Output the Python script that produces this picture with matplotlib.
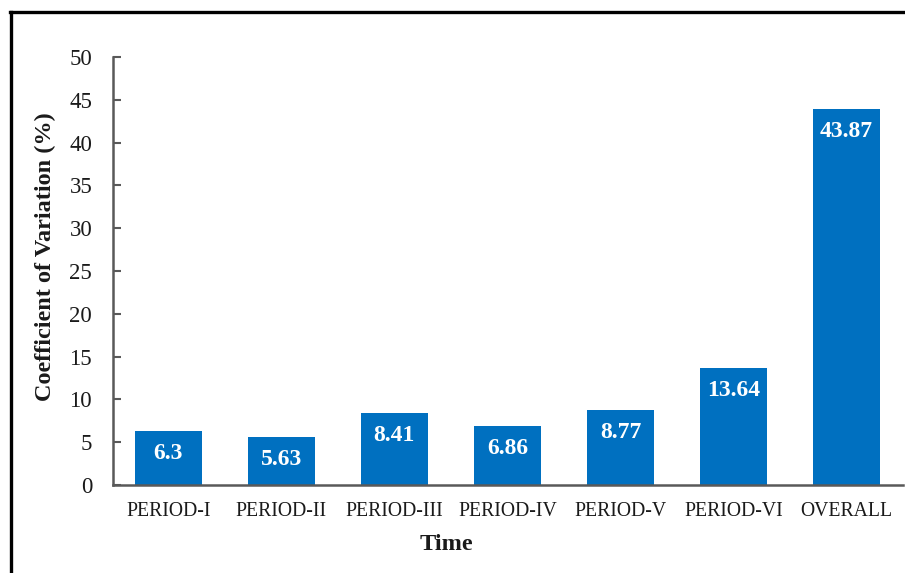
import matplotlib
matplotlib.use("Agg")
import matplotlib.pyplot as plt
from matplotlib.lines import Line2D

categories = ["PERIOD-I", "PERIOD-II", "PERIOD-III", "PERIOD-IV", "PERIOD-V", "PERIOD-VI", "OVERALL"]
values = [6.3, 5.63, 8.41, 6.86, 8.77, 13.64, 43.87]
labels = ["6.3", "5.63", "8.41", "6.86", "8.77", "13.64", "43.87"]
yticks = [0, 5, 10, 15, 20, 25, 30, 35, 40, 45, 50]

plt.rcParams['font.family'] = ['Liberation Serif', 'DejaVu Serif']

W, H = 905, 573
fig = plt.figure(figsize=(W/100, H/100), dpi=100)
ax = fig.add_axes([113/W, 1-485/H, (903-113)/W, (485-57)/H])

x = list(range(len(categories)))
bars = ax.bar(x, values, width=0.595, color='#0070C0', zorder=2)

for xi, v, lab in zip(x, values, labels):
    ax.annotate(lab, (xi, v), xytext=(0, -16), textcoords='offset points',
                ha='center', va='center', color='white', fontweight='bold', fontsize=17)

ax.set_xlim(-0.49, 6.5)
ax.set_ylim(0, 50)
ax.set_yticks(yticks)
ax.set_xticks(x)
ax.set_xticklabels(categories, fontsize=14.2, color='#1a1a1a')
ax.tick_params(axis='y', labelsize=16.5, length=6, width=1.5, direction='in', color='#595959',
               labelcolor='#1a1a1a', pad=15)
ax.tick_params(axis='x', length=0, pad=12)
for s in ['top', 'right']:
    ax.spines[s].set_visible(False)
for s in ['left', 'bottom']:
    ax.spines[s].set_color('#595959')
    ax.spines[s].set_linewidth(1.8)

fig.text(446/W, 1-545/H, "Time", ha='center', va='center', fontsize=17.5, fontweight='bold', color='#1a1a1a')
fig.text(45/W, 1-257/H, "Coefficient of Variation (%)", ha='center', va='center', rotation=90,
         fontsize=17.5, fontweight='bold', color='#1a1a1a')

# outer frame (top and left edges)
fig.add_artist(Line2D([10/W, 1.0], [1-12/H, 1-12/H], transform=fig.transFigure, color='black', linewidth=2.4))
fig.add_artist(Line2D([11/W, 11/W], [0, 1-12/H], transform=fig.transFigure, color='black', linewidth=2.4))

fig.savefig("out.png", dpi=100)
